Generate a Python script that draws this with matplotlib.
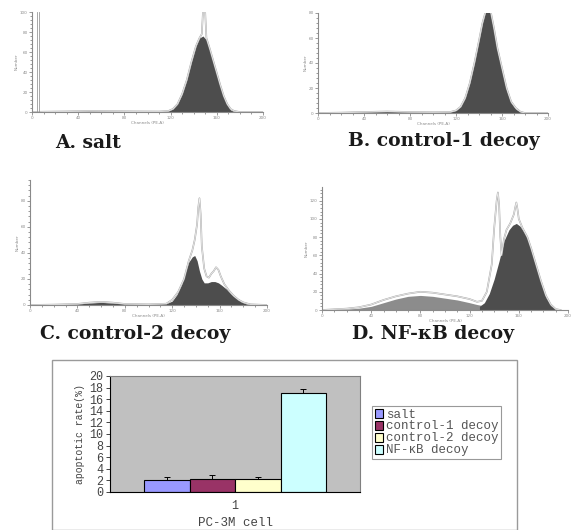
import numpy as np
import matplotlib
matplotlib.use("Agg")
import matplotlib.pyplot as plt
from matplotlib.patches import Rectangle
from matplotlib.ticker import MultipleLocator

W, H = 571, 530

# ---- flow cytometry histograms (channel, count) ----
a_ch = [0, 10, 30, 50, 70, 90, 110, 118, 122, 126, 130, 134, 138, 142, 145, 148, 151, 154, 157, 160, 163, 166, 169, 172, 175, 180, 200]
a_fill = [0, 0.3, 0.6, 1, 0.8, 0.6, 0.5, 1, 3, 8, 18, 32, 50, 66, 74, 76, 72, 62, 50, 38, 26, 15, 7, 2, 0.5, 0, 0]
a_line_ch = [0, 10, 30, 50, 70, 90, 110, 118, 122, 126, 130, 134, 138, 142, 145, 147, 148.5, 149.5, 151, 154, 157, 160, 163, 166, 169, 172, 175, 180, 200]
a_line = [0, 0.3, 0.6, 1, 0.8, 0.6, 0.5, 1, 3, 8, 18, 32, 50, 66, 74, 78, 110, 110, 74, 63, 51, 39, 27, 16, 8, 3, 1, 0, 0]

b_ch = [0, 20, 40, 60, 80, 100, 115, 120, 124, 128, 132, 136, 140, 143, 146, 148, 150, 153, 156, 160, 164, 168, 172, 176, 180, 200]
b_fill = [0, 0.3, 0.8, 1.2, 0.8, 0.6, 0.8, 2, 5, 12, 24, 40, 58, 72, 82, 84, 80, 66, 50, 34, 18, 8, 3, 1, 0, 0]
b_line = [0, 0.3, 0.8, 1.2, 0.8, 0.6, 0.8, 2, 5, 12, 24, 40, 58, 72, 82, 86, 82, 68, 52, 36, 20, 9, 4, 1, 0, 0]

c_ch = [0, 20, 40, 50, 60, 70, 80, 100, 115, 120, 124, 128, 131, 134, 137, 139, 141, 143, 145, 147, 150, 153, 156, 159, 162, 166, 170, 174, 178, 182, 186, 200]
c_fill = [0, 0.3, 0.8, 1.5, 2, 1.5, 0.8, 0.5, 1, 3, 8, 16, 25, 33, 37, 38, 34, 26, 20, 17, 17, 18, 18, 17, 15, 12, 8, 5, 2.5, 1, 0, 0]
c_line_ch = [0, 20, 40, 50, 60, 70, 80, 100, 115, 120, 125, 130, 134, 137, 139, 141, 142, 143, 144, 145, 147, 149, 151, 153, 155, 157, 159, 161, 164, 168, 172, 176, 180, 186, 200]
c_line = [0, 0.3, 0.8, 1.8, 2.4, 1.8, 0.8, 0.5, 1, 4, 10, 20, 34, 42, 50, 62, 75, 82, 70, 45, 28, 22, 21, 24, 26, 29, 27, 22, 16, 11, 7, 4, 2, 0.5, 0]

d_low_ch = [0, 10, 20, 30, 40, 50, 60, 70, 80, 90, 100, 110, 120, 126, 130, 134]
d_low = [0, 0.5, 1, 2, 4, 8, 12, 15, 16, 15, 13, 11, 8, 6, 5, 4]
d_high_ch = [128, 132, 136, 140, 144, 148, 152, 155, 158, 161, 164, 167, 170, 174, 178, 182, 186, 190, 194]
d_high = [4, 8, 18, 34, 54, 76, 88, 93, 95, 92, 86, 78, 66, 48, 30, 14, 5, 1, 0]
d_line_ch = [0, 20, 30, 40, 50, 60, 70, 80, 90, 100, 110, 120, 126, 130, 134, 138, 140, 142, 143, 144, 145, 146, 148, 150, 153, 156, 157, 158, 159, 160, 163, 167, 170, 174, 178, 182, 186, 190, 194]
d_line = [0, 1.5, 3, 6, 11, 15, 18, 20, 19, 17, 15, 12, 9, 10, 20, 50, 90, 120, 129, 115, 80, 60, 78, 88, 95, 105, 112, 118, 110, 100, 90, 80, 68, 50, 32, 16, 6, 1, 0]

# ---- bar chart ----
groups = ["salt", "control-1 decoy", "control-2 decoy", "NF-\u03baB decoy"]
rates = [2.15, 2.3, 2.3, 17.1]
errs = [0.45, 0.6, 0.3, 0.6]
bar_colors = ["#9999ff", "#993366", "#ffffcc", "#ccffff"]


def box(l, t, r, b):
    return [l / W, 1 - b / H, (r - l) / W, (b - t) / H]


fig = plt.figure(figsize=(W / 100, H / 100), dpi=100)
fig.patch.set_facecolor("white")


def hist_axes(rect, ymax, ystep):
    ax = fig.add_axes(rect)
    ax.set_xlim(0, 200)
    ax.set_ylim(0, ymax)
    for s in ["top", "right"]:
        ax.spines[s].set_visible(False)
    for s in ["left", "bottom"]:
        ax.spines[s].set_color("#8a8a8a")
        ax.spines[s].set_linewidth(0.8)
    ax.xaxis.set_major_locator(MultipleLocator(40))
    ax.xaxis.set_minor_locator(MultipleLocator(10))
    ax.yaxis.set_major_locator(MultipleLocator(ystep))
    ax.yaxis.set_minor_locator(MultipleLocator(ystep / 5))
    ax.tick_params(which="both", colors="#8a8a8a", labelsize=3, length=2, width=0.6, pad=1)
    ax.tick_params(which="minor", length=1.2)
    ax.set_xlabel("Channels (PE-A)", fontsize=3, color="#8a8a8a", labelpad=0.5)
    ax.set_ylabel("Number", fontsize=3, color="#8a8a8a", labelpad=1)
    return ax


def outline(ax, x, y):
    ax.plot(x, y, color="#a8a8a8", lw=1.2, solid_joinstyle="round")
    ax.plot(x, y, color="#f4f4f4", lw=0.5, solid_joinstyle="round")


dark = "#4d4d4d"

# A
ax = hist_axes(box(32, 12, 263, 112), 100, 20)
ax.fill_between(a_ch, a_fill, color=dark, lw=0)
outline(ax, a_line_ch, a_line)
ax.axvline(4, color="#9a9a9a", lw=0.6)
ax.axvline(6, color="#9a9a9a", lw=0.6)

# B
ax = hist_axes(box(318, 13, 548, 113), 80, 20)
ax.fill_between(b_ch, b_fill, color=dark, lw=0)
outline(ax, b_ch, b_line)

# C
ax = hist_axes(box(30, 180, 267, 305), 96, 20)
ax.fill_between(c_ch, c_fill, color=dark, lw=0)
outline(ax, c_line_ch, c_line)

# D
ax = hist_axes(box(322, 187, 568, 310), 135, 20)
ax.fill_between(d_low_ch, d_low, color="#8c8c8c", lw=0)
ax.fill_between(d_high_ch, d_high, color=dark, lw=0)
outline(ax, d_line_ch, d_line)

title_kw = dict(fontsize=13.5, fontweight="bold", family="DejaVu Serif", va="center", ha="left",
                color="#1a1a1a")
fig.text(55 / W, 1 - 143 / H, "A. salt", **title_kw)
fig.text(348 / W, 1 - 141 / H, "B. control-1 decoy", **title_kw)
fig.text(40 / W, 1 - 334 / H, "C. control-2 decoy", **title_kw)
fig.text(352 / W, 1 - 334 / H, "D. NF-\u03baB decoy", **title_kw)

# bar chart frame
frame = Rectangle((52 / W, 0), (517 - 52) / W, (H - 360) / H,
                  transform=fig.transFigure, facecolor="none",
                  edgecolor="#9a9a9a", lw=1, zorder=-1)
fig.patches.append(frame)

mono = "Liberation Mono"
bx = fig.add_axes(box(110, 376, 360, 492))
bx.set_facecolor("#c0c0c0")
width = 0.182
offsets = (np.arange(len(groups)) - 1.5) * width
bars = []
for i in range(len(groups)):
    b = bx.bar(offsets[i], rates[i], width, color=bar_colors[i], edgecolor="black", lw=0.8,
               yerr=[[0], [errs[i]]], capsize=2.5, error_kw=dict(lw=0.7, capthick=0.7, ecolor="black"),
               label=groups[i])
    bars.append(b)
bx.set_xlim(-0.5, 0.5)
bx.set_ylim(0, 20)
bx.set_yticks(range(0, 21, 2))
bx.set_xticks([0])
bx.set_xticklabels(["1"])
for s in ["top", "right"]:
    bx.spines[s].set_color("#808080")
bx.tick_params(axis="both", labelsize=8.5, length=3, width=0.7, colors="#444444", pad=2)
bx.tick_params(axis="x", length=0, pad=6)
for lab in bx.get_xticklabels() + bx.get_yticklabels():
    lab.set_family(mono)
bx.set_ylabel("apoptotic rate(%)", fontsize=7, family=mono, color="#444444", labelpad=3)
bx.set_xlabel("PC-3M cell", fontsize=9, family=mono, color="#444444", labelpad=3)

leg = fig.legend(handles=bars, labels=groups, loc="upper left",
                 bbox_to_anchor=(372 / W, 1 - 406 / H), bbox_transform=fig.transFigure,
                 prop=dict(family=mono, size=9), frameon=True, fancybox=False,
                 edgecolor="#808080", handlelength=0.7, handleheight=0.7, handletextpad=0.25,
                 labelspacing=0.0, borderpad=0.2, borderaxespad=0)
leg.get_frame().set_linewidth(0.8)
for t in leg.get_texts():
    t.set_color("#555555")

fig.savefig("out.png", dpi=100)
